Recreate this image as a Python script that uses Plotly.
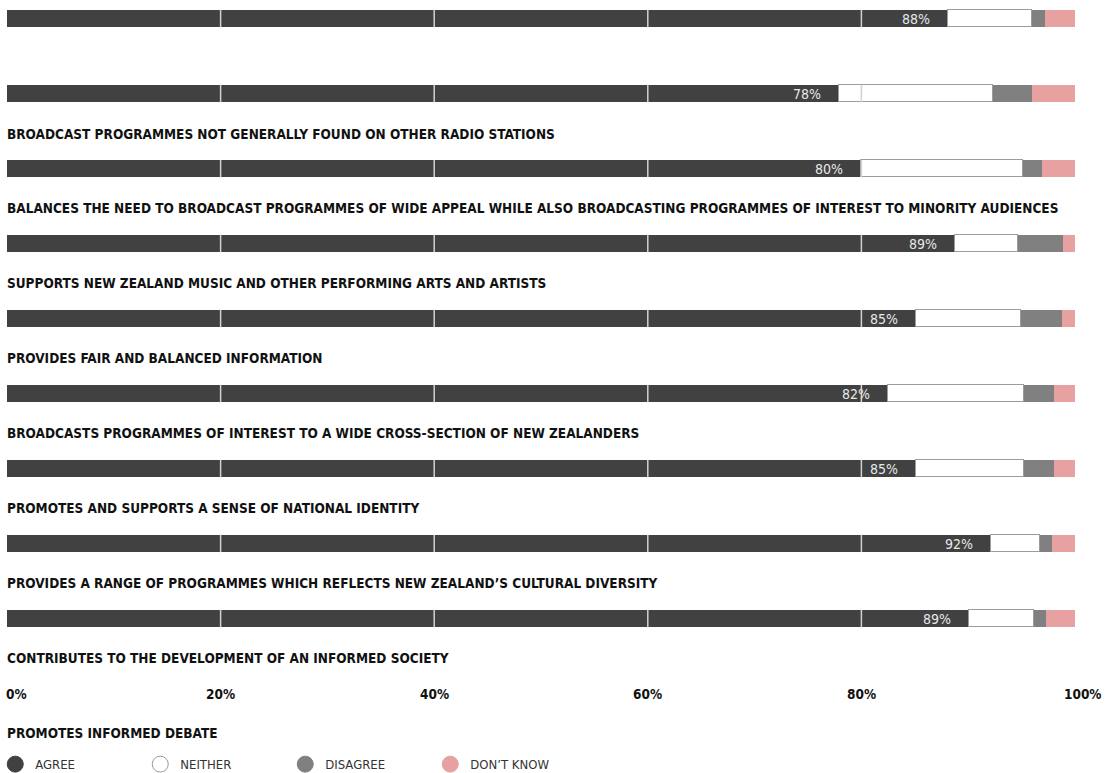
import plotly.graph_objects as go

# ---- data (top bar first) ----
agree = [88.1, 77.9, 80.0, 88.8, 85.1, 82.5, 85.1, 92.1, 90.1]
agree_text = ["88%", "78%", "80%", "89%", "85%", "82%", "85%", "92%", "89%"]
neither = [7.9, 14.4, 15.1, 5.9, 9.8, 12.7, 10.1, 4.6, 6.1]
disagree = [1.2, 3.7, 1.8, 4.2, 3.9, 2.8, 2.8, 1.1, 1.1]
dont_know = [2.8, 4.0, 3.1, 1.1, 1.2, 2.0, 2.0, 2.2, 2.7]

# statement labels in the order they appear from top to bottom
statements = [
    "BROADCAST PROGRAMMES NOT GENERALLY FOUND ON OTHER RADIO STATIONS",
    "BALANCES THE NEED TO BROADCAST PROGRAMMES OF WIDE APPEAL WHILE ALSO BROADCASTING PROGRAMMES OF INTEREST TO MINORITY AUDIENCES",
    "SUPPORTS NEW ZEALAND MUSIC AND OTHER PERFORMING ARTS AND ARTISTS",
    "PROVIDES FAIR AND BALANCED INFORMATION",
    "BROADCASTS PROGRAMMES OF INTEREST TO A WIDE CROSS-SECTION OF NEW ZEALANDERS",
    "PROMOTES AND SUPPORTS A SENSE OF NATIONAL IDENTITY",
    "PROVIDES A RANGE OF PROGRAMMES WHICH REFLECTS NEW ZEALAND\u2019S CULTURAL DIVERSITY",
    "CONTRIBUTES TO THE DEVELOPMENT OF AN INFORMED SOCIETY",
    "PROMOTES INFORMED DEBATE",
]
series_names = ["AGREE", "NEITHER", "DISAGREE", "DON\u2019T KNOW"]
tick_values = [0, 20, 40, 60, 80, 100]
tick_labels = ["0%", "20%", "40%", "60%", "80%", "100%"]

# ---- styling ----
FONT = "DejaVu Sans Condensed, Roboto, Liberation Sans, sans-serif"
C_AGREE = "#414141"
C_NEITHER = "#ffffff"
C_DIS = "#808080"
C_DK = "#e8a1a1"
BAR_W = 0.235

n = len(agree)
ypos = list(range(n))

fig = go.Figure()
fig.add_trace(go.Bar(y=ypos, x=agree, orientation="h", width=BAR_W,
                     marker=dict(color=C_AGREE, line=dict(width=0)),
                     showlegend=False, hoverinfo="x"))
fig.add_trace(go.Bar(y=ypos, x=neither, orientation="h", width=BAR_W,
                     marker=dict(color=C_NEITHER, line=dict(width=1, color="#9c9c9c")),
                     showlegend=False, hoverinfo="x"))
fig.add_trace(go.Bar(y=ypos, x=disagree, orientation="h", width=BAR_W,
                     marker=dict(color=C_DIS, line=dict(width=0)),
                     showlegend=False, hoverinfo="x"))
fig.add_trace(go.Bar(y=ypos, x=dont_know, orientation="h", width=BAR_W,
                     marker=dict(color=C_DK, line=dict(width=0)),
                     showlegend=False, hoverinfo="x"))

# gridlines drawn over the bars only
gx, gy = [], []
for i in ypos:
    for v in tick_values[1:-1]:
        gx += [v, v, None]
        gy += [i - BAR_W / 2, i + BAR_W / 2, None]
fig.add_trace(go.Scatter(x=gx, y=gy, mode="lines",
                         line=dict(color="#d2d2d2", width=1.5),
                         showlegend=False, hoverinfo="skip"))

# legend entries
legend_colors = [C_AGREE, C_NEITHER, C_DIS, C_DK]
for name, col in zip(series_names, legend_colors):
    fig.add_trace(go.Scatter(
        x=[None], y=[None], mode="markers", name=name,
        marker=dict(symbol="circle", size=16, color=col,
                    line=dict(width=1, color="#9a9a9a" if col == C_NEITHER else col))))

annotations = []
# value labels inside agree segments
for i, (v, t) in enumerate(zip(agree, agree_text)):
    annotations.append(dict(x=v, y=i, xref="x", yref="y", text=t, showarrow=False,
                            xanchor="right", yanchor="middle", xshift=-16,
                            font=dict(family=FONT, size=14, color="#e8e8e8")))
# statement labels
for j, s in enumerate(statements):
    annotations.append(dict(x=0, y=1.533 + j, xref="x", yref="y", text="<b>" + s + "</b>",
                            showarrow=False, xanchor="left", yanchor="middle", xshift=-2,
                            font=dict(family=FONT, size=13.5, color="#111111")))
# axis tick labels
for v, t in zip(tick_values, tick_labels):
    anchor = "left" if v == tick_values[0] else "center"
    shift = 8 if v == tick_values[-1] else (-3 if v == tick_values[0] else 0)
    annotations.append(dict(x=v, y=9.0, xref="x", yref="y", text="<b>" + t + "</b>",
                            showarrow=False, xanchor=anchor, yanchor="middle", xshift=shift,
                            font=dict(family=FONT, size=13.5, color="#111111")))

fig.update_layout(
    width=1106, height=773,
    barmode="stack",
    bargap=0,
    paper_bgcolor="white", plot_bgcolor="white",
    margin=dict(l=7, r=31, t=0, b=0, autoexpand=False),
    xaxis=dict(range=[0, 100], showgrid=False, zeroline=False, showticklabels=False,
               showline=False, fixedrange=True),
    yaxis=dict(range=[10.06, -0.247], showgrid=False, zeroline=False,
               showticklabels=False, showline=False, fixedrange=True),
    annotations=annotations,
    showlegend=True,
    legend=dict(orientation="h", x=-0.011, y=-0.008, xanchor="left", yanchor="bottom",
                traceorder="normal",
                entrywidth=100, entrywidthmode="pixels", itemwidth=30,
                font=dict(family=FONT, size=13, color="#333333"),
                bgcolor="rgba(0,0,0,0)", tracegroupgap=0),
)

fig.write_html("out.html", config={"displayModeBar": False},
               post_script="document.body.style.margin='0';document.body.style.overflow='hidden';")
